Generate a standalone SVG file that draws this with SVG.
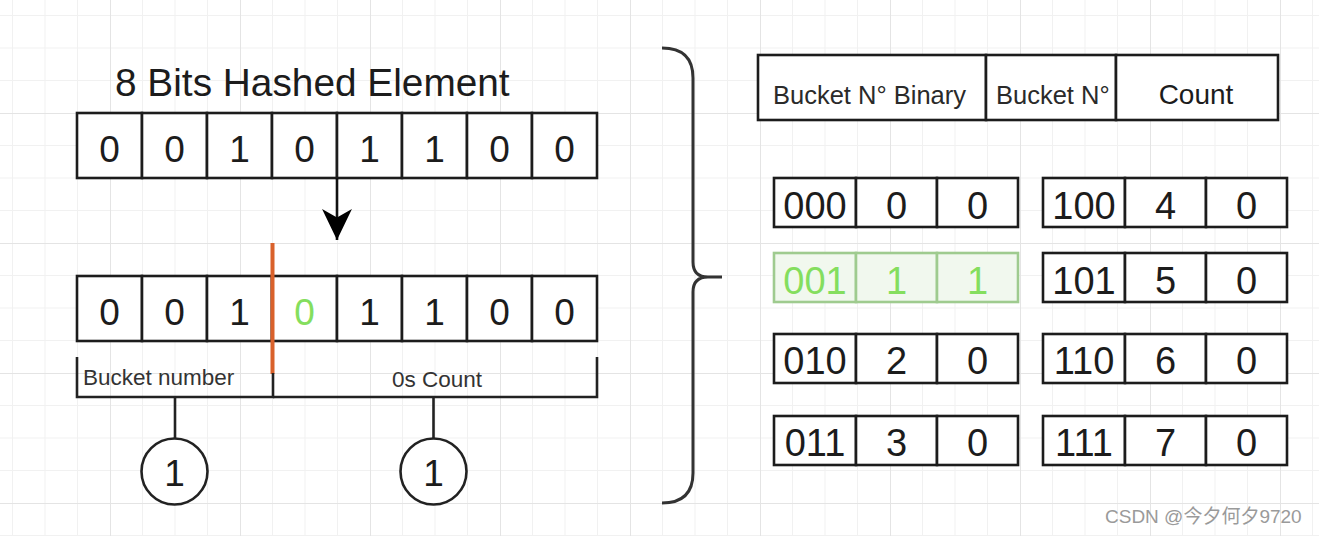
<svg xmlns="http://www.w3.org/2000/svg" width="1319" height="536" viewBox="0 0 1319 536">
<defs>
<style>
.bg{fill:#ffffff}
.cell{fill:#ffffff;stroke:#1c1c1c;stroke-width:2.6}
.gcell{fill:#f1f8ee;stroke:#9fcb8f;stroke-width:2.6}
.ln{fill:none;stroke:#222222;stroke-width:2.6}
.txt{font-family:"Liberation Sans",Arial,sans-serif;fill:#1c1c1c}
.bit{font-size:37px;text-anchor:middle}
.num{font-size:38px;text-anchor:middle}
.lbl{font-size:22.5px;fill:#333333}
.hdr{font-size:25.5px;fill:#2a2a2a}
.green{fill:#84de5e}
</style>
<pattern id="grid" patternUnits="userSpaceOnUse" x="-20" y="-17" width="130" height="130">
<path d="M32.5,0V130M65,0V130M97.5,0V130M0,32.5H130M0,65H130M0,97.5H130" stroke="#f1f1f1" stroke-width="1" fill="none"/>
<path d="M0.5,0V130M0,0.5H130" stroke="#e4e4e4" stroke-width="1" fill="none"/>
</pattern>
<marker id="arr" markerUnits="userSpaceOnUse" markerWidth="32" markerHeight="30" refX="29" refY="14" orient="auto" viewBox="0 0 30 28">
<path d="M0,0 L29,14 L0,28 L8,14 Z" fill="#000"/>
</marker>
</defs>
<rect class="bg" width="1319" height="536"/>
<rect width="1319" height="536" fill="url(#grid)"/>

<g id="title">
<text class="txt" x="115" y="96" font-size="38.8">8 Bits Hashed Element</text>
</g>

<g id="hashed-bits">
<rect class="cell" x="77" y="113" width="65" height="65"/><text class="txt bit" x="109.5" y="162">0</text>
<rect class="cell" x="142" y="113" width="65" height="65"/><text class="txt bit" x="174.5" y="162">0</text>
<rect class="cell" x="207" y="113" width="65" height="65"/><text class="txt bit" x="239.5" y="162">1</text>
<rect class="cell" x="272" y="113" width="65" height="65"/><text class="txt bit" x="304.5" y="162">0</text>
<rect class="cell" x="337" y="113" width="65" height="65"/><text class="txt bit" x="369.5" y="162">1</text>
<rect class="cell" x="402" y="113" width="65" height="65"/><text class="txt bit" x="434.5" y="162">1</text>
<rect class="cell" x="467" y="113" width="65" height="65"/><text class="txt bit" x="499.5" y="162">0</text>
<rect class="cell" x="532" y="113" width="65" height="65"/><text class="txt bit" x="564.5" y="162">0</text>
</g>

<g id="split-bits">
<rect class="cell" x="77" y="276" width="65" height="65"/><text class="txt bit" x="109.5" y="325">0</text>
<rect class="cell" x="142" y="276" width="65" height="65"/><text class="txt bit" x="174.5" y="325">0</text>
<rect class="cell" x="207" y="276" width="65" height="65"/><text class="txt bit" x="239.5" y="325">1</text>
<rect class="cell" x="272" y="276" width="65" height="65"/><text class="txt bit green" x="304.5" y="325">0</text>
<rect class="cell" x="337" y="276" width="65" height="65"/><text class="txt bit" x="369.5" y="325">1</text>
<rect class="cell" x="402" y="276" width="65" height="65"/><text class="txt bit" x="434.5" y="325">1</text>
<rect class="cell" x="467" y="276" width="65" height="65"/><text class="txt bit" x="499.5" y="325">0</text>
<rect class="cell" x="532" y="276" width="65" height="65"/><text class="txt bit" x="564.5" y="325">0</text>
</g>

<g id="split-marker">
<line x1="272.5" y1="243" x2="272.5" y2="374" stroke="#d9612b" stroke-width="4"/>
</g>

<g id="bucket-number">
<path class="ln" d="M77,357 V397 H273 V373"/>
<text class="txt lbl" x="83" y="385">Bucket number</text>
</g>

<g id="zeros-count">
<path class="ln" d="M273,397 H597 V357"/>
<text class="txt lbl" x="392" y="387">0s Count</text>
</g>

<g id="circle-bucket">
<circle cx="174.5" cy="471.5" r="33" fill="#fff" stroke="#222" stroke-width="2.6"/>
<text class="txt bit" x="174.5" y="486">1</text>
</g>

<g id="circle-count">
<circle cx="433.5" cy="471.5" r="33" fill="#fff" stroke="#222" stroke-width="2.6"/>
<text class="txt bit" x="433.5" y="486">1</text>
</g>

<g id="brace">
<path d="M662,48 Q693,48 693,78 L693,262 Q693,277 708,277 L722,277 M708,277 Q693,277 693,292 L693,473 Q693,503 662,503" fill="none" stroke="#333333" stroke-width="3"/>
</g>

<g id="header">
<rect class="cell" x="758" y="55" width="228" height="65"/>
<rect class="cell" x="986" y="55" width="130" height="65"/>
<rect class="cell" x="1116" y="55" width="162" height="65"/>
<text class="txt hdr" x="773" y="104">Bucket N° Binary</text>
<text class="txt hdr" x="996" y="104">Bucket N°</text>
<text class="txt" x="1196" y="104" font-size="28" text-anchor="middle" fill="#2a2a2a">Count</text>
</g>

<g id="row-000">
<rect class="cell" x="774" y="178" width="82" height="49"/><rect class="cell" x="856" y="178" width="81" height="49"/><rect class="cell" x="937" y="178" width="81" height="49"/>
<text class="txt num" x="815" y="219">000</text><text class="txt num" x="896.5" y="219">0</text><text class="txt num" x="977.5" y="219">0</text>
</g>
<g id="row-001">
<rect class="gcell" x="774" y="253" width="82" height="49"/><rect class="gcell" x="856" y="253" width="81" height="49"/><rect class="gcell" x="937" y="253" width="81" height="49"/>
<text class="txt num green" x="815" y="294">001</text><text class="txt num green" x="896.5" y="294">1</text><text class="txt num green" x="977.5" y="294">1</text>
</g>
<g id="row-010">
<rect class="cell" x="774" y="334" width="82" height="49"/><rect class="cell" x="856" y="334" width="81" height="49"/><rect class="cell" x="937" y="334" width="81" height="49"/>
<text class="txt num" x="815" y="374">010</text><text class="txt num" x="896.5" y="374">2</text><text class="txt num" x="977.5" y="374">0</text>
</g>
<g id="row-011">
<rect class="cell" x="774" y="416" width="82" height="49"/><rect class="cell" x="856" y="416" width="81" height="49"/><rect class="cell" x="937" y="416" width="81" height="49"/>
<text class="txt num" x="815" y="456">011</text><text class="txt num" x="896.5" y="456">3</text><text class="txt num" x="977.5" y="456">0</text>
</g>
<g id="row-100">
<rect class="cell" x="1043" y="178" width="82" height="49"/><rect class="cell" x="1125" y="178" width="81" height="49"/><rect class="cell" x="1206" y="178" width="81" height="49"/>
<text class="txt num" x="1084" y="219">100</text><text class="txt num" x="1165.5" y="219">4</text><text class="txt num" x="1246.5" y="219">0</text>
</g>
<g id="row-101">
<rect class="cell" x="1043" y="253" width="82" height="49"/><rect class="cell" x="1125" y="253" width="81" height="49"/><rect class="cell" x="1206" y="253" width="81" height="49"/>
<text class="txt num" x="1084" y="294">101</text><text class="txt num" x="1165.5" y="294">5</text><text class="txt num" x="1246.5" y="294">0</text>
</g>
<g id="row-110">
<rect class="cell" x="1043" y="334" width="82" height="49"/><rect class="cell" x="1125" y="334" width="81" height="49"/><rect class="cell" x="1206" y="334" width="81" height="49"/>
<text class="txt num" x="1084" y="374">110</text><text class="txt num" x="1165.5" y="374">6</text><text class="txt num" x="1246.5" y="374">0</text>
</g>
<g id="row-111">
<rect class="cell" x="1043" y="416" width="82" height="49"/><rect class="cell" x="1125" y="416" width="81" height="49"/><rect class="cell" x="1206" y="416" width="81" height="49"/>
<text class="txt num" x="1084" y="456">111</text><text class="txt num" x="1165.5" y="456">7</text><text class="txt num" x="1246.5" y="456">0</text>
</g>

<g id="connectors">
<line x1="337" y1="178" x2="337" y2="240" stroke="#111" stroke-width="2.6" marker-end="url(#arr)"/>
<line x1="175" y1="397" x2="175" y2="438.5" stroke="#222" stroke-width="2.6"/>
<line x1="433.5" y1="397" x2="433.5" y2="438.5" stroke="#222" stroke-width="2.6"/>
</g>

<g id="watermark">
<text x="1105" y="523" font-family="Liberation Sans, 'Noto Sans CJK SC', sans-serif" font-size="19" fill="#9a9a9a">CSDN @今夕何夕9720</text>
</g>
</svg>
